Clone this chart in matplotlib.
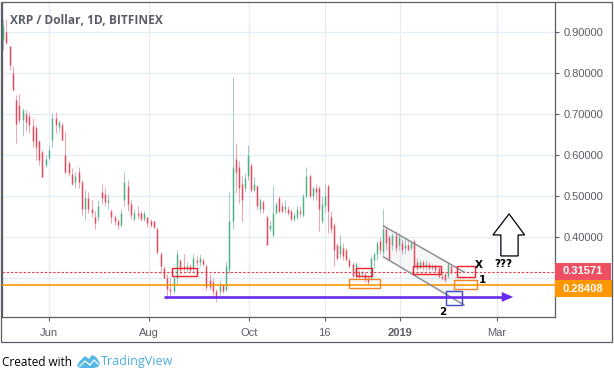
import pandas as pd
import numpy as np
import matplotlib
matplotlib.use('Agg')
import matplotlib.pyplot as plt
import matplotlib.dates as mdates
from matplotlib.patches import Rectangle, Polygon
from matplotlib.lines import Line2D
from matplotlib.transforms import Affine2D

# ── data ──────────────────────────────────────────────────────────────────────
highs = [.932, .932, .866, .817, .747, .749, .715, .71, .705, .69, .673, .637, .613, .60, .625, .703, .705, .686, .681, .656,
         .585, .569, .56, .57, .54, .515, .51, .49, .465, .49, .53, .52, .505, .47, .455, .445, .47, .56, .54, .49,
         .47, .475, .465, .465, .45, .445, .44, .425, .365, .33, .31, .30, .305, .37, .345, .36, .34, .335, .36, .355,
         .36, .35, .335, .31, .30, .275, .295, .285, .34, .51, .79, .63, .585, .55, .556, .625, .58, .547, .528, .495,
         .49, .455, .44, .525, .486, .50, .485, .49, .475, .47, .46, .475, .475, .505, .57, .555, .525, .53, .525, .50,
         .53, .53, .465, .435, .385, .405, .385, .375, .35, .34, .34, .32, .32, .315, .305, .355, .365, .39, .40, .47,
         .425, .405, .41, .415, .41, .395, .395, .39, .39, .395, .35, .345, .345, .345, .34, .335, .335, .33, .31, .315,
         .34, .335]
lows = [.856, .873, .807, .759, .63, .678, .649, .66, .654, .62, .588, .576, .547, .57, .588, .62, .654, .656, .637, .554,
        .55, .527, .52, .52, .455, .442, .46, .45, .42, .44, .48, .476, .47, .435, .43, .42, .425, .475, .465, .445,
        .44, .445, .44, .44, .425, .425, .42, .36, .31, .30, .25, .255, .265, .285, .31, .318, .315, .315, .315, .33,
        .33, .33, .272, .272, .26, .243, .26, .265, .27, .31, .42, .508, .483, .437, .51, .54, .51, .51, .47, .46,
        .46, .38, .415, .40, .46, .46, .46, .46, .455, .44, .44, .445, .45, .45, .495, .495, .49, .49, .415, .435,
        .46, .41, .41, .33, .345, .35, .345, .345, .325, .30, .30, .30, .305, .29, .285, .295, .325, .345, .36, .355,
        .37, .345, .37, .365, .37, .36, .36, .37, .37, .325, .32, .325, .32, .32, .32, .32, .315, .30, .295, .29,
        .30, .31]
opens = [.881, .90, .866, .80, .734, .722, .686, .70, .695, .67, .666, .634, .608, .575, .593, .637, .69, .669, .673, .60,
         .58, .555, .535, .56, .535, .47, .495, .47, .45, .45, .51, .505, .485, .465, .45, .44, .43, .49, .525, .48,
         .445, .46, .46, .445, .45, .44, .44, .42, .36, .325, .30, .275, .27, .30, .345, .33, .325, .33, .325, .345,
         .34, .345, .33, .295, .29, .27, .27, .285, .272, .32, .44, .59, .57, .53, .52, .55, .575, .515, .525, .47,
         .485, .45, .42, .405, .46, .495, .475, .47, .47, .465, .445, .45, .465, .455, .50, .55, .50, .52, .52, .44,
         .475, .525, .45, .43, .38, .36, .375, .37, .345, .335, .305, .315, .31, .31, .30, .30, .345, .36, .39, .365,
         .42, .40, .38, .405, .38, .385, .375, .38, .375, .39, .34, .325, .34, .33, .335, .325, .33, .325, .305, .31,
         .305, .33]
closes = [.917, .873, .82, .759, .676, .686, .71, .68, .673, .635, .62, .588, .547, .59, .613, .69, .673, .681, .637, .559,
          .556, .53, .55, .535, .47, .495, .47, .46, .435, .475, .495, .485, .49, .45, .44, .43, .46, .535, .48, .455,
          .46, .455, .445, .46, .435, .43, .425, .365, .33, .30, .275, .27, .30, .36, .32, .325, .33, .32, .35, .34,
          .35, .335, .28, .28, .27, .255, .285, .27, .33, .44, .57, .56, .52, .49, .545, .60, .515, .53, .475, .49,
          .47, .38, .43, .46, .48, .465, .465, .475, .46, .445, .455, .47, .46, .50, .55, .50, .52, .51, .47, .48,
          .50, .465, .42, .37, .35, .38, .355, .345, .33, .305, .335, .305, .315, .30, .29, .35, .36, .385, .37, .42,
          .385, .345, .405, .375, .40, .37, .38, .37, .385, .33, .325, .34, .33, .335, .325, .33, .32, .305, .30, .295,
          .335, .315]

tick_dates = ['2018-06-01', '2018-08-01', '2018-10-01', '2018-11-16', '2019-01-01', '2019-03-01']
tick_labels = ['Jun', 'Aug', 'Oct', '16', '2019', 'Mar']
price_ticks = [0.3, 0.4, 0.5, 0.6, 0.7, 0.8, 0.9]
last_price = 0.31571
support_price = 0.28408

# drawings on the chart (start date, end date, low price, high price)
red_boxes = [('2018-08-15', '2018-08-30', .306, .325), ('2018-12-05', '2018-12-15', .306, .325),
             ('2019-01-09', '2019-01-26', .311, .330), ('2019-02-05', '2019-02-16', .303, .330)]
orange_boxes = [('2018-12-01', '2018-12-20', .2765, .298), ('2019-02-03', '2019-02-17', .274, .296)]
blue_boxes = [('2019-01-29', '2019-02-08', .235, .269)]

RED, GREEN = '#E8475A', '#4CB284'
RED_WICK, GREEN_WICK = '#F5A3B0', '#A5C9CC'
FRAME = '#5A5D66'
GRID = '#E3EDF3'
TEXT = '#5A5D66'


def d(s):
    return mdates.date2num(pd.to_datetime(s))


# ── figure ────────────────────────────────────────────────────────────────────
fig = plt.figure(figsize=(6.14, 3.72), dpi=100)
ax = fig.add_axes([2 / 614, 55 / 372, 553 / 614, 314 / 372])
px = Affine2D().scale(1 / 614, -1 / 372).translate(0, 1) + fig.transFigure

# candles before and after the September spike were read at slightly different spacing
spike = 70
dates = np.concatenate([
    mdates.date2num(pd.date_range('2018-05-04', '2018-09-21', periods=spike + 1)),
    mdates.date2num(pd.date_range('2018-09-21', '2019-02-01', periods=len(opens) - spike))[1:],
])
op, hi, lo, cl = map(np.array, (opens, highs, lows, closes))
up = cl >= op

ax.vlines(dates[up], lo[up], hi[up], color=GREEN_WICK, lw=0.75, zorder=2)
ax.vlines(dates[~up], lo[~up], hi[~up], color=RED_WICK, lw=0.75, zorder=2)
ax.vlines(dates[up], op[up], cl[up], color=GREEN, lw=1.05, zorder=3)
ax.vlines(dates[~up], op[~up], cl[~up], color=RED, lw=1.05, zorder=3)

ax.axhline(last_price, color='#E5404F', lw=0.8, ls=(0, (2.2, 1.6)), zorder=4)
ax.axhline(support_price, color='#FF9800', lw=1.2, zorder=4)

# channel
c_x = d(['2018-12-22', '2019-02-09'])
c_top = [.4275, .3155]
c_bot = [.352, .235]
ax.fill_between(c_x, c_bot, c_top, color='#9A9EA6', alpha=0.09, lw=0, zorder=3)
ax.plot(c_x, c_top, color='#8C8F94', lw=1.1, zorder=5)
ax.plot(c_x, c_bot, color='#8C8F94', lw=1.1, zorder=5)

for boxes, col in ((red_boxes, '#F0202C'), (orange_boxes, '#F58220'), (blue_boxes, '#3F48CC')):
    for b in boxes:
        ax.add_patch(Rectangle((d(b[0]), b[2]), d(b[1]) - d(b[0]), b[3] - b[2],
                               fill=False, edgecolor=col, lw=1.0, zorder=6))

# purple arrow
ax.plot(d(['2018-08-10', '2019-03-04']), [.2546, .2546], color='#6A2BF0', lw=1.9, zorder=6, solid_capstyle='butt')
ax.add_patch(Polygon([(d('2019-03-04'), .2666), (d('2019-03-11'), .2546), (d('2019-03-04'), .2426)],
                     color='#6A2BF0', lw=0, zorder=6))

# hollow up arrow
ax.add_patch(Polygon([(d('2019-03-08 12:00'), .457), (d('2019-03-18'), .4056), (d('2019-03-14'), .4056),
                      (d('2019-03-14'), .3545), (d('2019-03-03 12:00'), .3545), (d('2019-03-03 12:00'), .4056),
                      (d('2019-02-26 16:00'), .4056)],
                     facecolor='white', edgecolor='black', lw=0.9, zorder=6))

mark_font = dict(fontsize=7.5, fontweight='bold', color='black', family='DejaVu Sans',
                 ha='center', va='center', zorder=7)
ax.text(d('2019-02-18'), .3325, 'X', **mark_font)
ax.text(d('2019-02-20'), .296, '1', **mark_font)
ax.text(d('2019-01-27'), .218, '2', **mark_font)
ax.text(d('2019-03-05'), .335, '???', **mark_font)

# ── axes ──────────────────────────────────────────────────────────────────────
ax.set_xlim(d('2018-05-03 08:00'), d('2019-04-05 12:00'))
ax.set_ylim(0.2058, 0.9706)
ax.xaxis.set_ticks(d(tick_dates))
ax.set_xticklabels(tick_labels, fontsize=8, color=TEXT, family='Liberation Sans')
ax.yaxis.tick_right()
ax.set_yticks(price_ticks)
ax.set_yticklabels(['' if p == 0.3 else f'{p:.5f}' for p in price_ticks],
                   fontsize=8, color=TEXT, family='Liberation Sans')
ax.get_xticklabels()[4].set_fontweight('bold')
ax.tick_params(axis='x', length=3, width=0.8, color=FRAME, pad=5)
ax.tick_params(axis='y', length=3, width=0.8, color=FRAME, pad=3)
ax.grid(True, color=GRID, lw=0.9, zorder=0)
ax.set_axisbelow(True)
for s in ax.spines.values():
    s.set_color(FRAME)
    s.set_linewidth(0.9)
ax.spines['top'].set_visible(False)

ax.text(10, 20, 'XRP / Dollar, 1D, BITFINEX', transform=px, fontsize=8.6, fontweight='bold',
        color=TEXT, family='Open Sans', va='center', ha='left')

# price tags on the right
fig.add_artist(Rectangle((555, 263), 56, 17, transform=px, facecolor='#EE4F63', edgecolor='none', zorder=2))
fig.add_artist(Rectangle((555, 280), 57, 17, transform=px, facecolor='#FF9800', edgecolor='none', zorder=2))
fig.text(583, 271.5, f'{last_price:.5f}', transform=px, color='white', fontsize=8, fontweight='bold',
         family='Liberation Sans', ha='center', va='center', zorder=3)
fig.text(583, 288.5, f'{support_price:.5f}', transform=px, color='white', fontsize=8, fontweight='bold',
         family='Liberation Sans', ha='center', va='center', zorder=3)

# outer frame
fig.add_artist(Rectangle((1, 2), 611, 340, transform=px, fill=False, edgecolor=FRAME, lw=0.9, zorder=2))

# footer
fig.text(2, 362, 'Created with', transform=px, fontsize=8.5, color='black', family='Open Sans', va='center')
fig.add_artist(Polygon([(77, 366), (79, 362), (85, 356), (89, 359), (92, 355), (96, 357), (100, 363), (98, 367), (94, 368), (80, 368)],
                       closed=True, transform=px, facecolor='#55B7E6', edgecolor='none', zorder=2))
fig.add_artist(Line2D([80, 85, 90, 94, 98], [366, 361, 365, 360, 364], transform=px, color='white', lw=0.9, zorder=3))
fig.text(101, 362, 'TradingView', transform=px, fontsize=9, color='#4BAEE3', family='Open Sans', va='center')

fig.savefig('out.png', dpi=100)
